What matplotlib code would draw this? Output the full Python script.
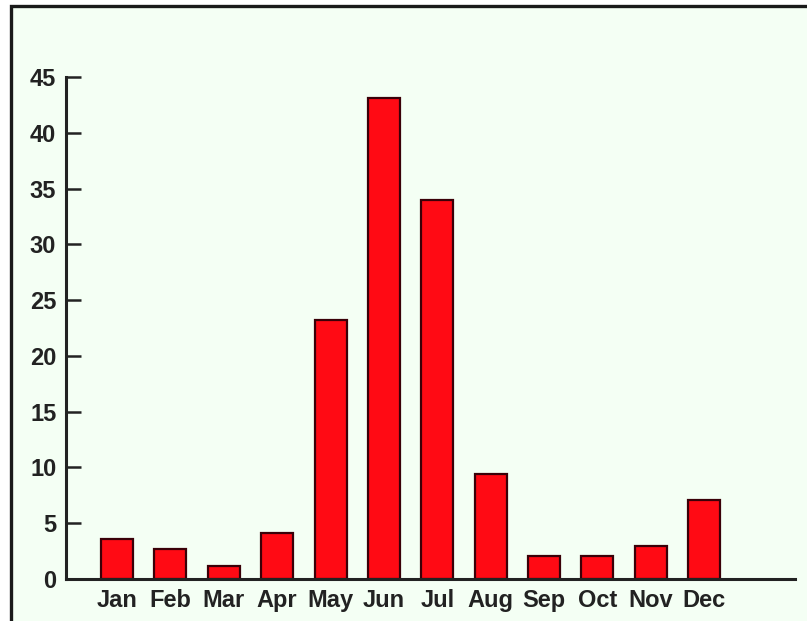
import matplotlib.pyplot as plt
from matplotlib.patches import Rectangle

months = ['Jan', 'Feb', 'Mar', 'Apr', 'May', 'Jun', 'Jul', 'Aug', 'Sep', 'Oct', 'Nov', 'Dec']
values = [3.6, 2.7, 1.2, 4.1, 23.2, 43.1, 34.0, 9.4, 2.1, 2.1, 3.0, 7.1]
yticks = [0, 5, 10, 15, 20, 25, 30, 35, 40, 45]

W, H = 807, 621
plt.rcParams['font.family'] = ['Liberation Sans', 'DejaVu Sans']

fig = plt.figure(figsize=(W / 100, H / 100), dpi=100, facecolor='white')

# framed light background, open at right and bottom
fig.patches.append(Rectangle((10.5 / W, -0.2), 1.5, 1.2 - 5.5 / H, transform=fig.transFigure,
                             facecolor='#f4fff4', edgecolor='#1a1a1a', linewidth=2.4, zorder=-5))

ax = fig.add_axes([66 / W, 1 - 579 / H, (795 - 66) / W, (579 - 77) / H])
ax.set_facecolor('none')
ax.set_zorder(1)

x = range(len(months))
ax.bar(x, values, width=0.6, color='#ff0a14', edgecolor='#3a0008', linewidth=1.6, zorder=2)

ax.set_xlim(-0.955, 12.7)
ax.set_ylim(0, 45)
ax.set_xticks(list(x))
ax.set_xticklabels(months)
ax.set_yticks(yticks)

for s in ['top', 'right']:
    ax.spines[s].set_visible(False)
for s in ['left', 'bottom']:
    ax.spines[s].set_linewidth(2.2)
    ax.spines[s].set_color('#222222')

ax.tick_params(axis='y', direction='in', length=11, width=1.8, color='#222222', pad=7,
               labelsize=17, labelcolor='#222222')
ax.tick_params(axis='x', length=0, pad=7, labelsize=17, labelcolor='#222222')
for lab in ax.get_xticklabels() + ax.get_yticklabels():
    lab.set_fontweight('bold')

fig.savefig('out.png', dpi=100)
